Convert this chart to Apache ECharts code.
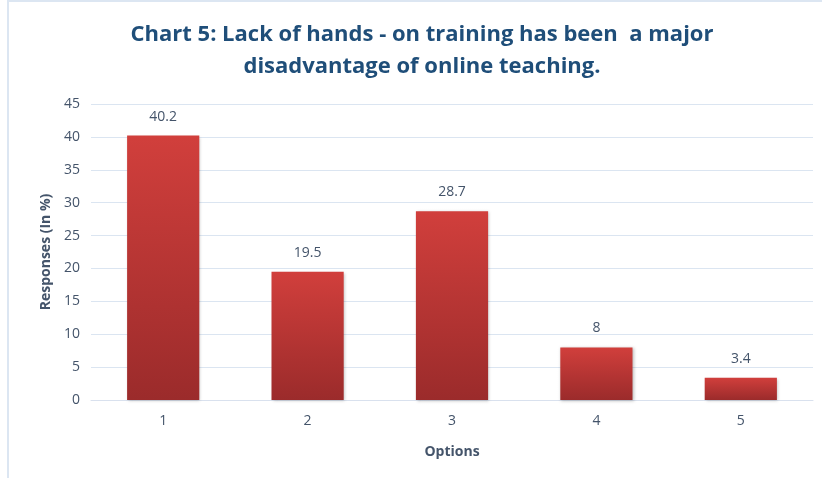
<!DOCTYPE html>
<html>
<head>
<meta charset="utf-8">
<script src="https://cdn.jsdelivr.net/npm/echarts@6/dist/echarts.min.js"></script>
<style>
  html, body { margin: 0; padding: 0; background: #fff; }
  #main { width: 822px; height: 479px; }
</style>
</head>
<body>
<div id="main"></div>
<script>
var options = ['1', '2', '3', '4', '5'];
var responses = [40.2, 19.5, 28.7, 8, 3.4];

var textBlue = '#44546a';
var titleBlue = '#1f4e79';

var chart = echarts.init(document.getElementById('main'));
chart.setOption({
    backgroundColor: '#fff',
    animation: false,
    title: {
        text: 'Chart 5: Lack of hands - on training has been  a major\ndisadvantage of online teaching.',
        left: 417,
        top: 14,
        textAlign: 'center',
        textStyle: {
            color: titleBlue,
            fontFamily: 'Open Sans',
            fontWeight: 'bold',
            fontSize: 22,
            lineHeight: 32
        }
    },
    // thin frame on the left and top edges
    graphic: [
        { type: 'rect', shape: { x: 7, y: 0, width: 2, height: 478 }, style: { fill: '#dce6f2' } },
        { type: 'rect', shape: { x: 7, y: 0, width: 815, height: 2 }, style: { fill: '#dce6f2' } }
    ],
    grid: {
        left: 91,
        right: 9,
        top: 104,
        bottom: 79,
        containLabel: false
    },
    xAxis: {
        type: 'category',
        data: options,
        name: 'Options',
        nameLocation: 'middle',
        nameGap: 45,
        nameTextStyle: {
            color: textBlue,
            fontFamily: 'Open Sans',
            fontWeight: 'bold',
            fontSize: 14
        },
        axisLine: { lineStyle: { color: '#d9e1ee' } },
        axisTick: { show: false },
        axisLabel: {
            color: textBlue,
            fontFamily: 'Open Sans',
            fontSize: 14,
            margin: 14
        }
    },
    yAxis: {
        type: 'value',
        min: 0,
        max: 45,
        interval: 5,
        name: 'Responses (In %)',
        nameLocation: 'middle',
        nameGap: 38,
        nameTextStyle: {
            color: textBlue,
            fontFamily: 'Open Sans',
            fontWeight: 'bold',
            fontSize: 14
        },
        axisLine: { show: false },
        axisTick: { show: false },
        axisLabel: {
            color: textBlue,
            fontFamily: 'Open Sans',
            fontSize: 14,
            margin: 11
        },
        splitLine: { lineStyle: { color: '#dbe5f1', width: 1 } }
    },
    series: [{
        type: 'bar',
        data: responses,
        barWidth: '50%',
        itemStyle: {
            color: new echarts.graphic.LinearGradient(0, 0, 0, 1, [
                { offset: 0, color: '#d13f3c' },
                { offset: 1, color: '#9b2b2b' }
            ]),
            shadowColor: 'rgba(0,0,0,0.25)',
            shadowBlur: 3,
            shadowOffsetX: 1,
            shadowOffsetY: 1
        },
        label: {
            show: true,
            position: 'top',
            distance: 12,
            color: textBlue,
            fontFamily: 'Open Sans',
            fontSize: 14
        }
    }]
});
</script>
</body>
</html>
